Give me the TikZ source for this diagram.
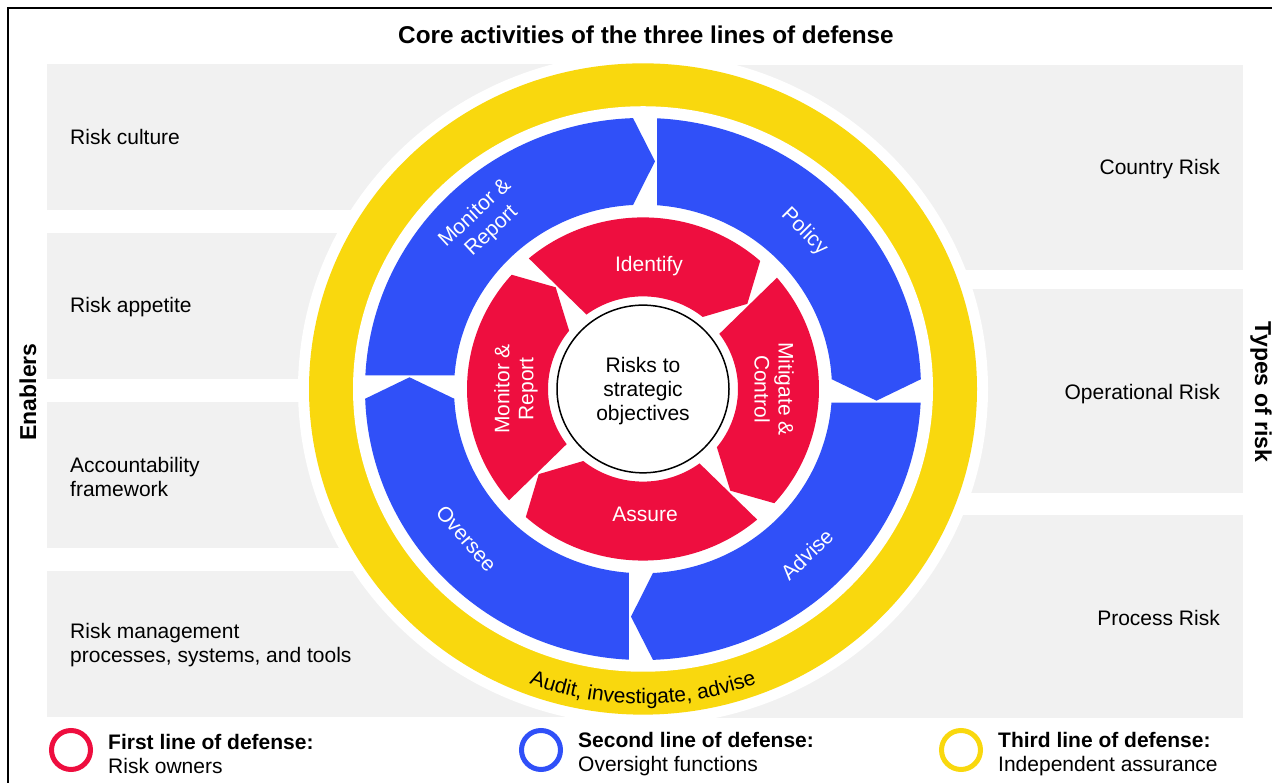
\documentclass[tikz,border=0pt]{standalone}
\usepackage{fontspec}
\setmainfont{Liberation Sans}
\usetikzlibrary{decorations.text}
\definecolor{riskred}{HTML}{EE0E3F}
\definecolor{riskblue}{HTML}{3050F8}
\definecolor{riskyellow}{HTML}{F9D80E}
\definecolor{boxgrey}{HTML}{F1F1F1}
\begin{document}
\begin{tikzpicture}[x=1pt, y=1pt,
    every node/.style={font=\fontsize{21}{24}\selectfont, inner sep=0pt},
    box/.style={fill=boxgrey},
    blueseg/.style={fill=riskblue},
    redseg/.style={fill=riskred},
    ringlabel/.style={text=white, align=center},
    heading/.style={font=\fontsize{23}{26}\selectfont\bfseries},
    legendring/.style={line width=5pt}]
  \useasboundingbox (0,0) rectangle (1272,783);
  \draw[line width=2pt] (8,0) -- (8,775) -- (1272,775);
  \node[heading, font=\fontsize{24.3}{27}\selectfont\bfseries] (title) at (646,748) {Core activities of the three lines of defense};

  \fill[box] (47,573) rectangle (643,719);
  \fill[box] (47,404) rectangle (643,550);
  \fill[box] (47,235) rectangle (643,381);
  \fill[box] (47,66) rectangle (643,212);
  \fill[box] (643,513) rectangle (1243,718);
  \fill[box] (643,290) rectangle (1243,494);
  \fill[box] (643,65) rectangle (1243,268);

  \node[anchor=west] (culture) at (70,646) {Risk culture};
  \node[anchor=west] (appetite) at (70,476) {Risk appetite};
  \node[anchor=west, align=left] (accountability) at (70,306) {Accountability\\framework};
  \node[anchor=west, align=left] (processes) at (70,138) {Risk management\\processes, systems, and tools};
  \node[anchor=east] (country) at (1220,614) {Country Risk};
  \node[anchor=east] (operational) at (1220,389) {Operational Risk};
  \node[anchor=east] (process) at (1220,165) {Process Risk};
  \node[heading, rotate=90] (enablers) at (28,391) {Enablers};
  \node[heading, rotate=-90] (types) at (1261,391) {Types of risk};

  \begin{scope}[shift={(643,394)}, yscale=0.975]
    \fill[white] (0,0) circle (345);
    \fill[riskyellow] (0,0) circle (334);
    \fill[white] (0,0) circle (290);
    % second line
    \fill[blueseg] (175.75:189) -- (177.11:278) arc[start angle=177.11, end angle=92.06, radius=278] -- (12,233.5) -- (93.03:189) arc[start angle=93.03, end angle=175.75, radius=189] -- cycle;
    \fill[blueseg, rotate=-90] (175.75:189) -- (177.11:278) arc[start angle=177.11, end angle=92.06, radius=278] -- (12,233.5) -- (93.03:189) arc[start angle=93.03, end angle=175.75, radius=189] -- cycle;
    \fill[blueseg, rotate=-180] (175.75:189) -- (177.11:278) arc[start angle=177.11, end angle=92.06, radius=278] -- (12,233.5) -- (93.03:189) arc[start angle=93.03, end angle=175.75, radius=189] -- cycle;
    \fill[blueseg, rotate=-270] (175.75:189) -- (177.11:278) arc[start angle=177.11, end angle=92.06, radius=278] -- (12,233.5) -- (93.03:189) arc[start angle=93.03, end angle=175.75, radius=189] -- cycle;
    % first line
    \fill[redseg, rotate=-45] (171.53:95) -- (175.44:176) arc[start angle=175.44, end angle=93.26, radius=176] -- (12,135.5) -- (96.04:95) arc[start angle=96.04, end angle=171.53, radius=95] -- cycle;
    \fill[redseg, rotate=-135] (171.53:95) -- (175.44:176) arc[start angle=175.44, end angle=93.26, radius=176] -- (12,135.5) -- (96.04:95) arc[start angle=96.04, end angle=171.53, radius=95] -- cycle;
    \fill[redseg, rotate=-225] (171.53:95) -- (175.44:176) arc[start angle=175.44, end angle=93.26, radius=176] -- (12,135.5) -- (96.04:95) arc[start angle=96.04, end angle=171.53, radius=95] -- cycle;
    \fill[redseg, rotate=-315] (171.53:95) -- (175.44:176) arc[start angle=175.44, end angle=93.26, radius=176] -- (12,135.5) -- (96.04:95) arc[start angle=96.04, end angle=171.53, radius=95] -- cycle;
    \draw[line width=1.5pt, fill=white] (0,0) circle (86);

    \node[ringlabel, rotate=43] (outermonitor) at (133:234) {Monitor \&\\Report};
    \node[ringlabel, rotate=-45] (policy) at (45:228) {Policy};
    \node[ringlabel, rotate=44] (advise) at (-46:236) {Advise};
    \node[ringlabel, rotate=-49] (oversee) at (221:234) {Oversee};
    \node[ringlabel] (identify) at (6,126) {Identify};
    \node[ringlabel, rotate=-90] (mitigate) at (131,0) {Mitigate \&\\Control};
    \node[ringlabel] (assure) at (2,-129) {Assure};
    \node[ringlabel, rotate=90] (innermonitor) at (-127,0) {Monitor \&\\Report};
    \node[align=center] (core) at (0,-2) {Risks to\\strategic\\objectives};
  \end{scope}
  \path[decorate, decoration={text along path, text align=center,
      text={|\fontsize{21}{24}\selectfont|Audit, investigate, advise}}]
    (643,394) ++(230:323 and 315) arc[start angle=230, end angle=310, x radius=323, y radius=315];

  \draw[legendring, riskred] (71,33) circle (19.5);
  \draw[legendring, riskblue] (541,33) circle (19.5);
  \draw[legendring, riskyellow] (961,33) circle (19.5);
  \node[anchor=west, align=left] (firstline) at (108,29) {\textbf{First line of defense:}\\Risk owners};
  \node[anchor=west, align=left] (secondline) at (578,29) {\textbf{Second line of defense:}\\Oversight functions};
  \node[anchor=west, align=left] (thirdline) at (998,29) {\textbf{Third line of defense:}\\Independent assurance};
\end{tikzpicture}
\end{document}
